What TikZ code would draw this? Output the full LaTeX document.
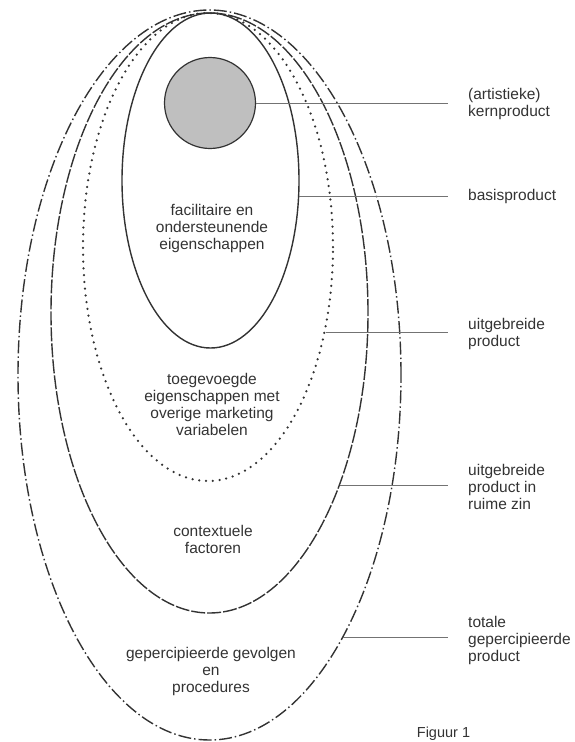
\documentclass[tikz,border=0pt]{standalone}
\usepackage{fontspec}
\setmainfont{Liberation Sans}
\usetikzlibrary{shapes.geometric}
\begin{document}
\begin{tikzpicture}[x=1pt,y=-1pt,font=\fontsize{15.5}{17}\selectfont,text=black!80,
    ring/.style={ellipse,draw=black!80,line width=1.4pt,inner sep=0pt},
    lead/.style={draw=black!55,line width=0.8pt},
    txt/.style={align=center},
    lbl/.style={align=left,anchor=west,inner xsep=20pt}]
    \useasboundingbox (0,0) rectangle (574,742);
    % rings, outer to inner
    \node[ring,minimum width=383pt,minimum height=730pt,dash pattern=on 13pt off 3pt on 1.5pt off 3pt] (totaal) at (209.5,375) {};
    \node[ring,minimum width=317pt,minimum height=600pt,dash pattern=on 14pt off 2pt] (ruim) at (209.5,313) {};
    \node[ring,minimum width=250pt,minimum height=468pt,line width=2.5pt,line cap=round,dash pattern=on 0pt off 6.8pt] (uitg) at (208,247) {};
    \node[ring,minimum width=177pt,minimum height=335pt] (basis) at (210.5,180.5) {};
    \node[circle,draw=black!80,line width=1.2pt,fill=black!25,minimum size=91pt] (kern) at (210,103) {};
    % texts inside
    \node[txt] (fac) at (212,228) {facilitaire en\\ondersteunende\\eigenschappen};
    \node[txt] (toe) at (212,404) {toegevoegde\\eigenschappen met\\overige marketing\\variabelen};
    \node[txt] (ctx) at (213,539) {contextuele\\factoren};
    \node[txt] (gev) at (211,671) {gepercipieerde gevolgen\\en\\procedures};
    % labels on the right
    \node[lbl] (kernl) at (448,104) {(artistieke)\\kernproduct};
    \node[lbl] (basisl) at (448,196) {basisproduct};
    \node[lbl] (uitgl) at (448,334) {uitgebreide\\product};
    \node[lbl] (ruiml) at (448,487) {uitgebreide\\product in\\ruime zin};
    \node[lbl] (totaall) at (448,640) {totale\\gepercipieerde\\product};
    \draw[lead] (kern.east) -- (kern.east -| kernl.west);
    \draw[lead] (basis.-10) -- (basis.-10 -| basisl.west);
    \draw[lead] (uitg.-36) -- (uitg.-36 -| uitgl.west);
    \draw[lead] (ruim.-53) -- (ruim.-53 -| ruiml.west);
    \draw[lead] (totaal.-63) -- (totaal.-63 -| totaall.west);
    \node[anchor=base,font=\fontsize{14.5}{17}\selectfont] (fig) at (443.5,737.5) {Figuur 1};
\end{tikzpicture}
\end{document}
